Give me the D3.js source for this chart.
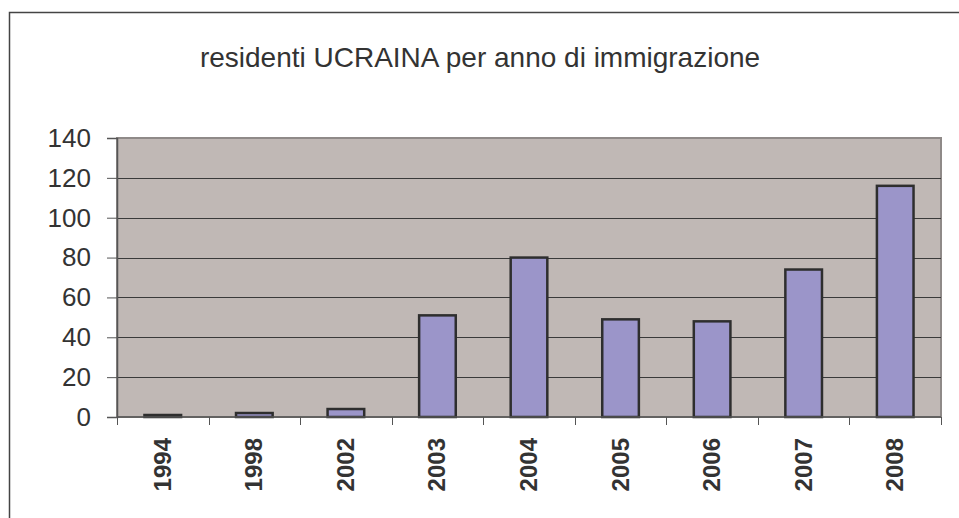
<!DOCTYPE html>
<html>
<head>
<meta charset="utf-8">
<script src="https://cdn.jsdelivr.net/npm/d3@7"></script>
<style>
  body { margin: 0; background: #fff; }
  svg { display: block; font-family: Arial, "Liberation Sans", sans-serif; }
</style>
</head>
<body>
<div id="chart"></div>
<script>
// data
const years = ['1994', '1998', '2002', '2003', '2004', '2005', '2006', '2007', '2008']
const residents = [1, 2, 4, 51, 80, 49, 48, 74, 116]
const yTicks = [0, 20, 40, 60, 80, 100, 120, 140]
const title = 'residenti UCRAINA per anno di immigrazione'

const W = 959
const H = 518
const margin = { top: 138, right: 18, bottom: 101, left: 117 }
const width = W - margin.left - margin.right
const height = H - margin.top - margin.bottom

const svg = d3.select('#chart')
  .append('svg')
  .attr('width', W)
  .attr('height', H)

// outer chart frame (left + top only are visible)
svg.append('path')
  .attr('d', 'M9.5,' + H + 'V12.5H' + W)
  .attr('fill', 'none')
  .attr('stroke', '#444')
  .attr('stroke-width', 1.5)

svg.append('text')
  .attr('x', 480)
  .attr('y', 67)
  .attr('text-anchor', 'middle')
  .attr('font-size', 28)
  .attr('fill', '#333')
  .text(title)

const g = svg.append('g')
  .attr('transform', 'translate(' + margin.left + ',' + margin.top + ')')

const x = d3.scaleBand()
  .domain(years)
  .range([0, width])
  .paddingInner(0.6)
  .paddingOuter(0.3)

const y = d3.scaleLinear()
  .domain([0, 140])
  .range([height, 0])

// plot background
g.append('rect')
  .attr('width', width)
  .attr('height', height)
  .attr('fill', '#c0b8b5')
  .attr('stroke', '#8f8a88')
  .attr('stroke-width', 2)

// grid lines
g.append('g')
  .selectAll('line')
  .data(yTicks.filter(d => d > 0 && d < 140))
  .enter()
  .append('line')
  .attr('x1', 0)
  .attr('x2', width)
  .attr('y1', d => Math.round(y(d)) + 0.5)
  .attr('y2', d => Math.round(y(d)) + 0.5)
  .attr('stroke', '#3a3a3a')
  .attr('stroke-width', 1)

// bars
g.append('g')
  .selectAll('rect')
  .data(years.map((d, i) => ({ year: d, value: residents[i] })))
  .enter()
  .append('rect')
  .attr('x', d => x(d.year))
  .attr('y', d => y(d.value))
  .attr('width', x.bandwidth())
  .attr('height', d => height - y(d.value))
  .attr('fill', '#9b95c9')
  .attr('stroke', '#2e2e2e')
  .attr('stroke-width', 2.5)

// y axis
const yAxis = g.append('g')
  .call(d3.axisLeft(y).tickValues(yTicks).tickSize(10).tickPadding(16))
yAxis.select('.domain').attr('stroke', '#555').attr('stroke-width', 1.5)
yAxis.selectAll('.tick line').attr('stroke', '#555')
yAxis.selectAll('.tick text')
  .attr('font-size', 26)
  .attr('fill', '#333')
  .attr('font-family', 'Arial, "Liberation Sans", sans-serif')

// x axis with ticks at category boundaries
const step = x.step()
const xAxis = g.append('g')
  .attr('transform', 'translate(0,' + height + ')')
xAxis.append('line')
  .attr('x1', 0)
  .attr('x2', width)
  .attr('stroke', '#555')
  .attr('stroke-width', 1.5)
xAxis.selectAll('.bound')
  .data(d3.range(years.length + 1))
  .enter()
  .append('line')
  .attr('class', 'bound')
  .attr('x1', i => Math.round(i * step) + 0.5)
  .attr('x2', i => Math.round(i * step) + 0.5)
  .attr('y1', 0)
  .attr('y2', 8)
  .attr('stroke', '#555')
xAxis.selectAll('.lbl')
  .data(years)
  .enter()
  .append('text')
  .attr('class', 'lbl')
  .attr('transform', d => 'translate(' + (x(d) + x.bandwidth() / 2 + 8) + ',21) rotate(-90)')
  .attr('text-anchor', 'end')
  .attr('font-size', 24)
  .attr('font-weight', 'bold')
  .attr('fill', '#333')
  .text(d => d)
</script>
</body>
</html>
